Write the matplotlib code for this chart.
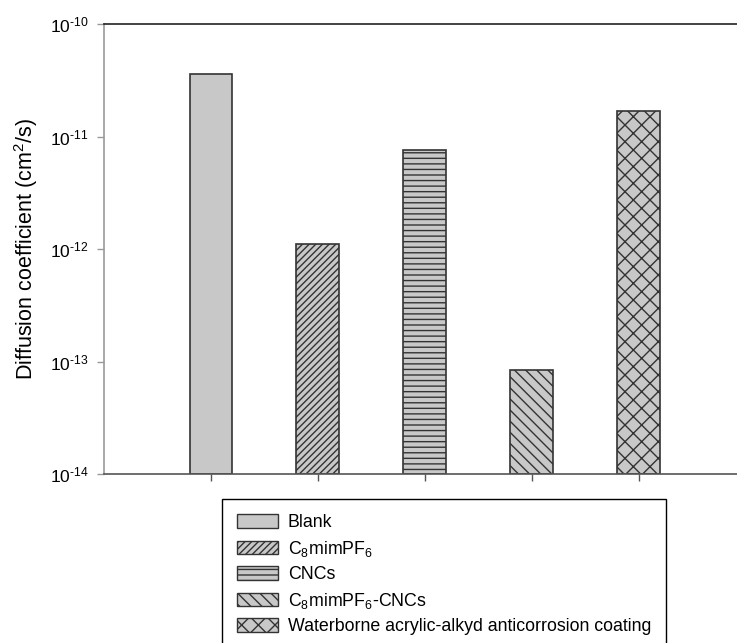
import matplotlib
matplotlib.use("Agg")
import matplotlib.pyplot as plt
from matplotlib.patches import Patch

plt.rcParams['font.family'] = ['Liberation Sans', 'DejaVu Sans']
plt.rcParams['mathtext.fontset'] = 'custom'
plt.rcParams['mathtext.rm'] = 'Liberation Sans'
plt.rcParams['mathtext.it'] = 'Liberation Sans'
plt.rcParams['mathtext.default'] = 'regular'
plt.rcParams['hatch.linewidth'] = 1.0

labels = ["Blank", "C$_8$mimPF$_6$", "CNCs", "C$_8$mimPF$_6$-CNCs",
          "Waterborne acrylic-alkyd anticorrosion coating"]
values = [3.6e-11, 1.1e-12, 7.6e-12, 7.4e-14, 1.7e-11]
hatches = ["", "/////", "---", "\\\\\\", "xx"]
ytick_vals = [1e-14, 1e-13, 1e-12, 1e-11, 1e-10]
ytick_labels = [r"10$^{\text{-}14}$", r"10$^{\text{-}13}$", r"10$^{\text{-}12}$",
                r"10$^{\text{-}11}$", r"10$^{\text{-}10}$"]

fill = "#c8c8c8"
edge = "#333333"

fig = plt.figure(figsize=(7.37, 6.43), dpi=100)
ax = fig.add_axes([104 / 737, 1 - 474 / 643, 1 - 104 / 737, 450 / 643])

x = [1, 2, 3, 4, 5]
for xi, v, h in zip(x, values, hatches):
    ax.bar(xi, v, width=0.4, bottom=1e-14, color=fill, edgecolor=edge,
           hatch=h, linewidth=1.2)

ax.set_yscale("log")
ax.set_ylim(1e-14, 1e-10)
ax.set_xlim(0, 5.92)
ax.set_yticks(ytick_vals)
ax.set_yticklabels(ytick_labels, fontsize=12.5)
ax.minorticks_off()
ax.set_xticks(x)
ax.set_xticklabels([])
ax.tick_params(direction="out", length=5, width=1, colors="#555555")
ax.tick_params(axis="y", pad=6, colors="#999999")
ax.tick_params(axis="y", labelcolor="black")

ax.spines["right"].set_visible(False)
ax.spines["top"].set_color("#222222")
ax.spines["left"].set_color("#999999")
ax.spines["bottom"].set_color("#555555")
for s in ax.spines.values():
    s.set_linewidth(1.2)

ax.set_ylabel("Diffusion coefficient (cm$^2$/s)", fontsize=15.5)
ax.yaxis.set_label_coords(-0.101, 0.5)

handles = [Patch(facecolor=fill, edgecolor=edge, hatch=h, linewidth=1.0)
           for h in hatches]
leg = fig.legend(handles, labels, loc="upper left",
                 bbox_to_anchor=(222 / 737, 1 - 499 / 643),
                 fontsize=12.8, frameon=True, fancybox=False,
                 edgecolor="black", handlelength=2.3, handleheight=0.8,
                 labelspacing=0.42, borderpad=0.85, handletextpad=0.55,
                 framealpha=1, borderaxespad=0)
leg.get_frame().set_linewidth(1.0)

fig.savefig("out.png", dpi=100)
